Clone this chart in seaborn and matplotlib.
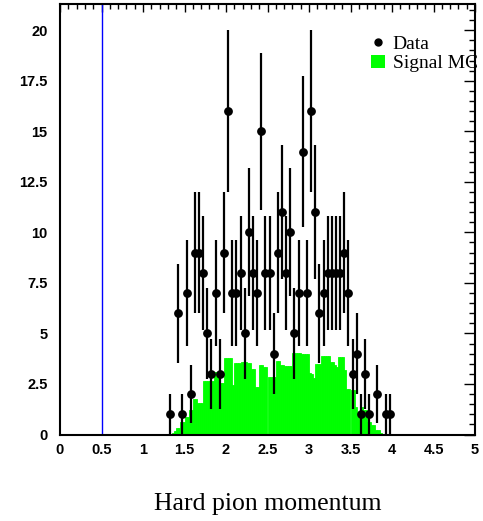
import numpy as np
import pandas as pd
import matplotlib
matplotlib.use("Agg")
import matplotlib.pyplot as plt
from matplotlib.lines import Line2D
from matplotlib.patches import Patch
from matplotlib.ticker import MultipleLocator, FuncFormatter
import seaborn as sns

# ---- Data (histogram of data counts, bin width 0.05) ----
data_centers = [1.325, 1.425, 1.475, 1.525, 1.575, 1.625, 1.675, 1.725, 1.775, 1.825,
                1.875, 1.925, 1.975, 2.025, 2.075, 2.125, 2.175, 2.225, 2.275, 2.325,
                2.375, 2.425, 2.475, 2.525, 2.575, 2.625, 2.675, 2.725, 2.775, 2.825,
                2.875, 2.925, 2.975, 3.025, 3.075, 3.125, 3.175, 3.225, 3.275, 3.325,
                3.375, 3.425, 3.475, 3.525, 3.575, 3.625, 3.675, 3.725, 3.825, 3.925,
                3.975]
data_counts = [1, 6, 1, 7, 2, 9, 9, 8, 5, 3,
               7, 3, 9, 16, 7, 7, 8, 5, 10, 8,
               7, 15, 8, 8, 4, 9, 11, 8, 10, 5,
               7, 14, 7, 16, 11, 6, 7, 8, 8, 8,
               8, 9, 7, 3, 4, 1, 3, 1, 2, 1,
               1]

# ---- Signal MC (bin width 0.025, starting at 1.35) ----
mc_start = 1.35
mc_width = 0.025
mc_values = [0.07, 0.15, 0.3, 0.3, 0.6, 0.6, 0.85, 0.85, 1.2, 1.2,
             1.75, 1.75, 1.55, 1.55, 1.55, 2.65, 2.65, 2.65, 2.65, 2.65,
             3.1, 3.1, 3.1, 2.55, 2.55, 3.8, 3.8, 3.8, 3.8, 2.45,
             3.55, 3.55, 3.55, 3.6, 3.6, 3.6, 3.55, 3.55, 3.25, 3.25,
             2.35, 2.35, 3.45, 3.45, 3.35, 3.35, 2.85, 2.85, 2.85, 2.85,
             3.65, 3.65, 3.42, 3.42, 3.4, 3.4, 3.4, 3.4, 4.05, 4.05,
             4.05, 4.05, 4.0, 4.0, 4.0, 4.0, 3.05, 3.0, 2.8, 3.5,
             3.5, 3.5, 3.9, 3.9, 3.9, 3.9, 3.58, 3.58, 3.42, 3.35,
             3.83, 3.83, 3.83, 3.17, 2.26, 2.26, 2.2, 2.2, 1.35, 0.94,
             0.94, 1.35, 1.19, 1.19, 0.6, 0.6, 0.48, 0.48, 0.2, 0.2,
             0.05, 0.0, 0.0, 0.0, 0.03]

cut_value = 0.5
x_ticks = [0, 0.5, 1, 1.5, 2, 2.5, 3, 3.5, 4, 4.5, 5]
y_ticks = [0, 2.5, 5, 7.5, 10, 12.5, 15, 17.5, 20]
legend_labels = ["Data", "Signal MC"]
x_title = "Hard pion momentum"

# ---- Build frames ----
n_mc = len(mc_values)
mc_centers = mc_start + mc_width * (np.arange(n_mc) + 0.5)
mc_df = pd.DataFrame({"x": mc_centers, "w": mc_values})
data_df = pd.DataFrame({"x": data_centers, "n": data_counts})
data_df["err"] = np.sqrt(data_df["n"])

sns.set_style("white")
plt.rcParams["font.family"] = ["Liberation Sans", "DejaVu Sans"]
plt.rcParams["text.color"] = "black"
plt.rcParams["axes.labelcolor"] = "black"
plt.rcParams["xtick.color"] = "black"
plt.rcParams["ytick.color"] = "black"

fig = plt.figure(figsize=(4.83, 5.21), dpi=100)
ax = fig.add_axes([60 / 483, 1 - 434.5 / 521, 415 / 483, 430.5 / 521])

sns.histplot(data=mc_df, x="x", weights="w", binwidth=mc_width,
             binrange=(mc_start, mc_start + mc_width * n_mc), color="#00ff00",
             alpha=1.0, linewidth=0.6, edgecolor="#00ff00", element="bars",
             fill=True, ax=ax, zorder=2)

ax.errorbar(data_df["x"], data_df["n"], yerr=data_df["err"], fmt="none",
            ecolor="black", elinewidth=1.6, capsize=0, zorder=3)
sns.scatterplot(data=data_df, x="x", y="n", color="black", s=40,
                edgecolor="black", linewidth=0, ax=ax, zorder=4)

ax.axvline(cut_value, color="#0000ff", linewidth=1.0, zorder=1)

ax.set_xlim(0, 5)
ax.set_ylim(0, 21.3)
ax.set_xticks(x_ticks)
ax.set_yticks(y_ticks)
fmt = FuncFormatter(lambda v, p: f"{v:g}")
ax.xaxis.set_major_formatter(fmt)
ax.yaxis.set_major_formatter(fmt)
ax.xaxis.set_minor_locator(MultipleLocator(0.1))
ax.yaxis.set_minor_locator(MultipleLocator(0.5))

ax.tick_params(axis="both", which="both", direction="in", top=True, right=True,
               colors="black", labelcolor="black", width=1.0)
ax.tick_params(axis="x", which="major", length=6, pad=6)
ax.tick_params(axis="x", which="minor", length=3.5)
ax.tick_params(axis="y", which="major", length=8, pad=9)
ax.tick_params(axis="y", which="minor", length=4.5)
for lab in ax.get_xticklabels() + ax.get_yticklabels():
    lab.set_fontsize(10.5)
    lab.set_fontweight("bold")
    lab.set_color("black")

for s in ax.spines.values():
    s.set_visible(True)
    s.set_color("black")
    s.set_linewidth(1.5)
    s.set_zorder(5)

ax.set_ylabel("")
ax.set_xlabel(x_title, family=["Liberation Serif", "DejaVu Serif"], fontsize=18.5,
              color="black")
ax.xaxis.set_label_coords(0.5, -0.135)

handles = [Line2D([], [], marker="o", color="black", linestyle="none", markersize=5),
           Patch(facecolor="#00ff00", edgecolor="none")]
leg = ax.legend(handles, legend_labels, loc="upper left",
                bbox_to_anchor=(0.75, 0.928), frameon=False,
                prop={"family": "Liberation Serif", "size": 14},
                handlelength=0.7, handleheight=0.7, handletextpad=0.4,
                labelspacing=0.1, borderpad=0, borderaxespad=0)
for t in leg.get_texts():
    t.set_color("black")
leg.set_zorder(6)

fig.savefig("out.png", dpi=100)
